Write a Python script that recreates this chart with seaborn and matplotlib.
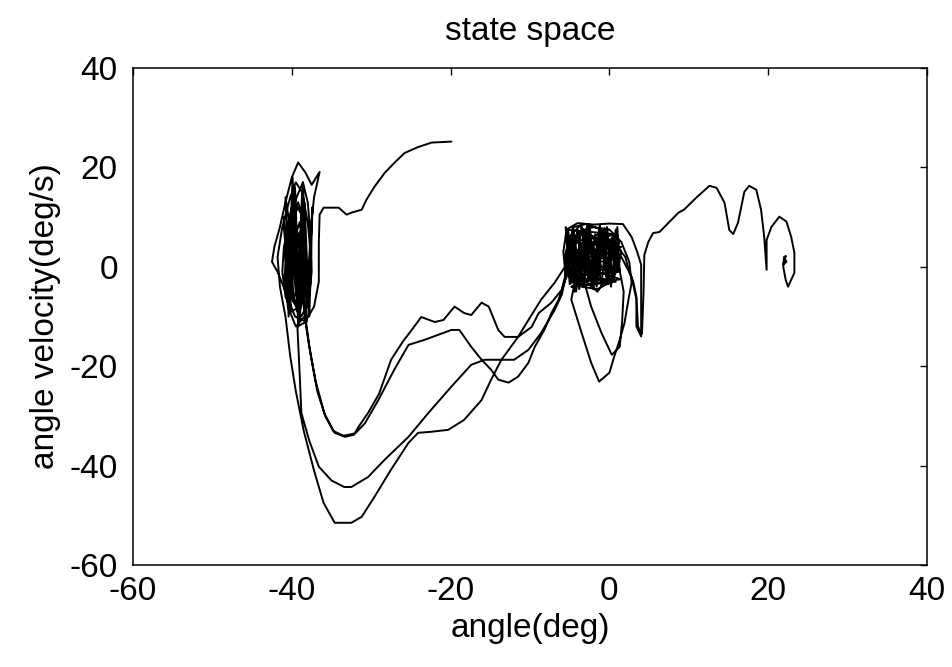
import numpy as np
import pandas as pd
import matplotlib
matplotlib.use("Agg")
import matplotlib.pyplot as plt
import seaborn as sns

# ---- data ----
start_angle = [-19.9, -22.4, -24.1, -25.8, -27.1, -28.3, -29.6, -30.6, -31.2, -32.5, -33.1, -34.1, -36.0, -36.5]
start_vel = [25.2, 25.0, 24.1, 22.9, 20.9, 18.9, 16.1, 13.5, 11.5, 10.9, 10.5, 11.9, 11.9, 10.5]

left1_angle = [-36.6, -36.6, -37.2, -38.3, -39.6, -40.8, -41.8, -42.5, -42.2, -41.5, -40.8, -40.0, -39.2, -38.3,
               -37.5, -36.5, -37.2, -37.6, -37.8, -38.2, -39.0, -40.0, -40.8, -41.2, -41.0, -40.3, -39.4, -38.6,
               -38.0, -37.6, -37.5, -37.9, -38.8, -39.8, -40.4, -40.5, -40.0, -39.3, -38.6, -38.3, -38.4, -38.9,
               -39.5, -39.8, -39.6, -39.0, -38.6, -38.7, -38.5]
left1_vel = [5, -3, -8, -11, -10, -5, -1, 1, 4, 8, 13, 18, 21, 19,
             16.5, 19.1, 14, 8, 2, -4, -8, -9, -6, -1, 4, 9, 14, 17,
             13, 6, -1, -7, -10, -7, -2, 3, 8, 12, 10, 4, -3, -8,
             -5, 0, 5, 7, 2, -4, -8]

lobeA1_angle = [-38.2, -37.6, -36.8, -35.8, -34.6, -33.3, -32.2, -31.6, -30.4, -29.0, -27.5, -26.0, -24.9, -23.7,
                -22.0, -20.9, -19.5, -18.3, -17.4, -16.1, -15.2, -14.0, -13.2, -11.5, -10.2, -8.6, -6.9, -5.6]
lobeA1_vel = [-12, -18, -25, -30, -33.4, -34.2, -33.8, -32.2, -29.4, -25.5, -18.7, -15, -12.7, -10.1,
              -11.1, -10.7, -8.0, -9.3, -9.7, -7.2, -8.0, -12.7, -14.1, -14.1, -10.7, -6.6, -3.2, 0]

right1_angle = [-5.2, -4.5, -3.0, -1.0, 0.5, 1.0, 0.2, -1.5, -3.5, -5.0, -5.6, -5.0, -3.8, -2.0, -0.5, -0.2,
                -1.5, -3.0, -4.5, -4.8, -3.8, -2.2, -1.5, -2.0, -3.5, -4.5, -4.2, -3.0, -1.8, -1.0, -1.8,
                -3.0, -3.5, -2.5, -1.5, -2.2, -3.2, -4.0, -5.0]
right1_vel = [4, 8, 8.6, 7.5, 4, 0, -3, -4.5, -4, -2, 2, 6, 8.2, 6, 2, -2,
              -5, -3, 0, 4, 7, 5, 1, -2, -3.5, -1, 3, 5, 3.5, 0, -3,
              -1.5, 2, 4, 2, -1, 0.5, -2, -3.5]

right_dense_angle = [-5.5, -4.8, -4.0, -3.2, -2.5, -1.8, -1.0, -0.2, 0.6, 1.3, 1.0, 0.2, -0.8, -1.8, -2.8,
                     -3.8, -4.8, -5.6, -5.2, -4.4, -3.5, -2.6, -1.8, -1.0, -0.3, 0.4, 1.2, 0.8, -0.2, -1.2,
                     -2.2, -3.2, -4.2, -5.0, -5.4, -4.6, -3.8, -3.0, -2.0, -1.2, -0.4, 0.4, 1.0, 0.5, -0.6,
                     -1.6, -2.6, -3.6, -4.6, -5.3]
right_dense_vel = [8, -3, 7.5, -4, 8.5, -2, 7, -3.5, 6, -1, 8, -4, 7.5, -3, 8.5,
                   -4.5, 6, -2, 7.5, -5, 8.2, -3, 6.5, -4, 8, -2.5, 5, 7.5, -3.5, 8,
                   -4, 7, -5, 5, -1, 8, -3.5, 7, -4.5, 8.3, -2, 6, 1, -3, 7.8,
                   -4, 6.5, -3, 7, 0]

lobeC_angle = [-6.0, -7.3, -8.9, -9.8, -11.5, -13.6, -14.9, -16.1, -18.3, -20.3, -22.5, -24.1, -25.3, -27.5,
               -29.6, -31.2, -32.5, -34.6, -36.0, -37.2, -38.5, -39.5, -40.2, -40.8]
lobeC_vel = [-4.6, -7.2, -9.3, -12.1, -14.1, -18.7, -22.7, -26.8, -30.8, -32.8, -33.2, -33.4, -35.4, -40.8,
             -46.3, -50.3, -51.5, -51.5, -47.5, -41, -33, -25, -18, -10]

left2_angle = [-41.5, -41.8, -41.2, -40.2, -39.5, -38.7, -38.0, -37.6, -37.7, -38.4, -39.5, -40.5, -40.9,
               -40.7, -40.0, -39.2, -38.5, -38.2, -38.4, -39.0, -39.8, -40.0, -39.6, -39.0, -38.5, -38.6,
               -39.2, -39.6, -39.4, -39.0, -39.1]
left2_vel = [-4, 2, 8, 14, 17, 15, 9, 2, -5, -10, -12, -8, -2,
             4, 10, 13, 9, 2, -5, -9, -6, 0, 6, 9, 4, -3,
             -7, -2, 3, 1, -4]

left_dense_angle = [-40.8, -40.2, -39.6, -39.0, -38.4, -37.8, -37.4, -38.0, -38.6, -39.2, -39.8, -40.4,
                    -41.0, -40.5, -39.9, -39.3, -38.7, -38.1]
left_dense_vel = [14, -9, 16, -11, 13, -10, 12, -8, 17, -12, 14, -10,
                  10, -6, 18, -9, 15, -11]

lobeB_angle = [-39.3, -39.0, -38.8, -37.8, -36.6, -35.0, -33.4, -32.5, -30.4, -28.3, -25.3, -22.8, -19.9,
               -17.4, -15.7, -12.0, -10.2, -8.6, -6.9, -6.0]
lobeB_vel = [-12, -22, -29.4, -35, -40.2, -43, -44.3, -44.3, -42.3, -38.8, -34.2, -29.4, -24.1,
             -19.7, -18.7, -18.7, -16.7, -13.3, -8.7, -5.6]

right2_angle = [-5.5, -5.8, -5.4, -4.0, -2.0, 0.0, 1.7, 2.8, 3.5, 4.0, 4.0, 4.0, 3.4, 3.4, 2.8, 1.5, -0.5,
                -2.5, -4.0, -4.8, -3.5, -2.3, -1.3, 0.0, 0.6, 1.3, 1.9, 2.4, 2.8, 2.5, 1.5, 0.0, -2.0,
                -4.0, -5.0, -5.3, -4.5, -3.0, -2.3, -1.0, 0.3, 1.3, 1.6, 1.8, 1.2, 0.0, -2.0, -3.5, -4.5,
                -4.8, -4.0, -2.5, -1.5, -1.0, -2.0, -3.5, -4.6, -4.5, -3.8, -2.5, -2.0, -2.8, -3.8, -3.6,
                -3.0, -5.0]
right2_vel = [-2, 3, 7.5, 8.8, 8.5, 8.7, 8.6, 6, 3, 0.4, -7, -14, -12, -6.6, -2, 2, 4,
              3, 0, -6.6, -13.3, -19.3, -23.1, -21.3, -18.1, -14.7, -11.3, -6.6, -3.2, 1, 5, 7.5, 8.0,
              7, 4, 0, -3, -4, -8, -13.3, -17.7, -16.1, -11, -5, 0, 3.5, 5, 4.5, 2,
              -1, -3, -2.5, 0, 3, 6, 7, 5, 1, -2, -1, 2, 4, 3, 0,
              0.5, 0]

lobeA2_angle = [-6.4, -7.3, -8.2, -9.4, -10.2, -11.5, -12.7, -14.0, -14.9, -16.1, -17.4, -18.9, -19.9,
                -23.3, -25.3, -27.1, -29.1, -30.8, -32.0, -33.5, -34.8, -35.9, -37.0, -37.8, -38.3]
lobeA2_vel = [-6.6, -9.3, -12.7, -16.1, -19.3, -22.1, -23.3, -22.7, -20.7, -18.7, -16.1, -12.7, -12.7,
              -14.7, -15.7, -20.7, -26.8, -31.5, -33.5, -34.0, -33.0, -29.5, -23, -16, -10]

left3_angle = [-38.6, -39.0, -39.5, -40.0, -40.6, -40.8, -40.5, -39.8, -39.2, -39.3, -39.7, -40.0, -39.7]
left3_vel = [-4, 3, 9, 12, 8, 2, -4, -7, -3, 3, 5, 1, -1]

right_h_angle = [-5.5, 1.0, -5.0, 1.5, -5.6, 0.5, -4.5, 1.2, -5.2, 0.8, -4.8, 1.4, -5.4, 0.2]
right_h_vel = [7.5, 6.5, 5, 4, 2.5, 1.5, 0, -1, -2, -3, -4, -2.5, 1, 3]

right3_angle = [-2.5, -1.0, 0.5, 1.5, 1.0, -0.5, -2.5, -3.8, -3.2, -1.5, 0.5, 2.0, 2.5, 3.0, 3.4, 3.6,
                4.1, 4.3, 4.4]
right3_vel = [1, 4, 6, 3, -1, -2.5, -2, 1, 5, 6.5, 5, 2, -1, -3, -6, -12,
              -13.5, -5, 2.4]

tail_angle = [4.9, 5.5, 6.3, 8.7, 9.4, 11.0, 12.6, 13.5, 14.5, 15.1, 15.6, 16.2, 17.0, 17.6, 18.5, 19.1,
              19.5, 19.8, 19.8, 20.4, 21.4, 22.3, 22.9, 23.3, 23.3, 22.5, 22.2, 21.9, 22.0, 22.3, 21.9,
              22.2, 22.0]
tail_vel = [5.0, 6.8, 7.0, 10.9, 11.5, 14.0, 16.3, 15.9, 12.9, 7.4, 6.6, 8.9, 15.1, 16.3, 15.5, 11.5,
            6.0, -0.6, 5.4, 8.0, 10.1, 9.1, 6.0, 2.8, -1.2, -4.0, -2.6, 0.0, 2.0, 1.0, 0.5,
            2.2, 1.2]

# ---- assemble trajectory (two continuous runs) ----
run1_parts = [(start_angle, start_vel), (left1_angle, left1_vel), (lobeA1_angle, lobeA1_vel),
              (right1_angle, right1_vel), (right_dense_angle, right_dense_vel),
              (lobeC_angle, lobeC_vel), (left2_angle, left2_vel), (left_dense_angle, left_dense_vel),
              (lobeB_angle, lobeB_vel), (right2_angle, right2_vel), (lobeA2_angle, lobeA2_vel),
              (left3_angle, left3_vel)]
run2_parts = [(right_h_angle, right_h_vel), (right3_angle, right3_vel), (tail_angle, tail_vel)]

rows = []
for seg, parts in enumerate([run1_parts, run2_parts]):
    for a, v in parts:
        for ai, vi in zip(a, v):
            rows.append((seg, ai, vi))
df = pd.DataFrame(rows, columns=["segment", "angle", "velocity"])

# ---- plot ----
sns.set_style("white")
plt.rcParams["font.family"] = ["Liberation Sans", "DejaVu Sans"]
plt.rcParams["axes.unicode_minus"] = False
plt.rcParams["text.color"] = "black"
plt.rcParams["axes.labelcolor"] = "black"
plt.rcParams["xtick.color"] = "black"
plt.rcParams["ytick.color"] = "black"

fig = plt.figure(figsize=(9.53, 6.67), dpi=100)
ax = fig.add_axes([0.1396, 0.1529, 0.9727 - 0.1396, 0.898 - 0.1529])

sns.lineplot(data=df, x="angle", y="velocity", units="segment", estimator=None, sort=False,
             color="black", linewidth=1.4, ax=ax, legend=False)

ax.set_xlim(-60, 40)
ax.set_ylim(-60, 40)
ax.set_xticks([-60, -40, -20, 0, 20, 40])
ax.set_yticks([-60, -40, -20, 0, 20, 40])
for s in ax.spines.values():
    s.set_color("black")
    s.set_linewidth(1.1)
ax.tick_params(axis="both", direction="in", length=5, width=1.0, colors="black",
               labelcolor="black", top=True, right=True, labelsize=24)
ax.tick_params(axis="x", pad=8)
ax.tick_params(axis="y", pad=11)
ax.set_xlabel("angle(deg)", fontsize=24, labelpad=4, color="black")
ax.set_ylabel("angle velocity(deg/s)", fontsize=24, labelpad=6, color="black")
ax.set_title("state space", fontsize=24, pad=20, color="black")

fig.savefig("out.png", dpi=100, facecolor="white")
